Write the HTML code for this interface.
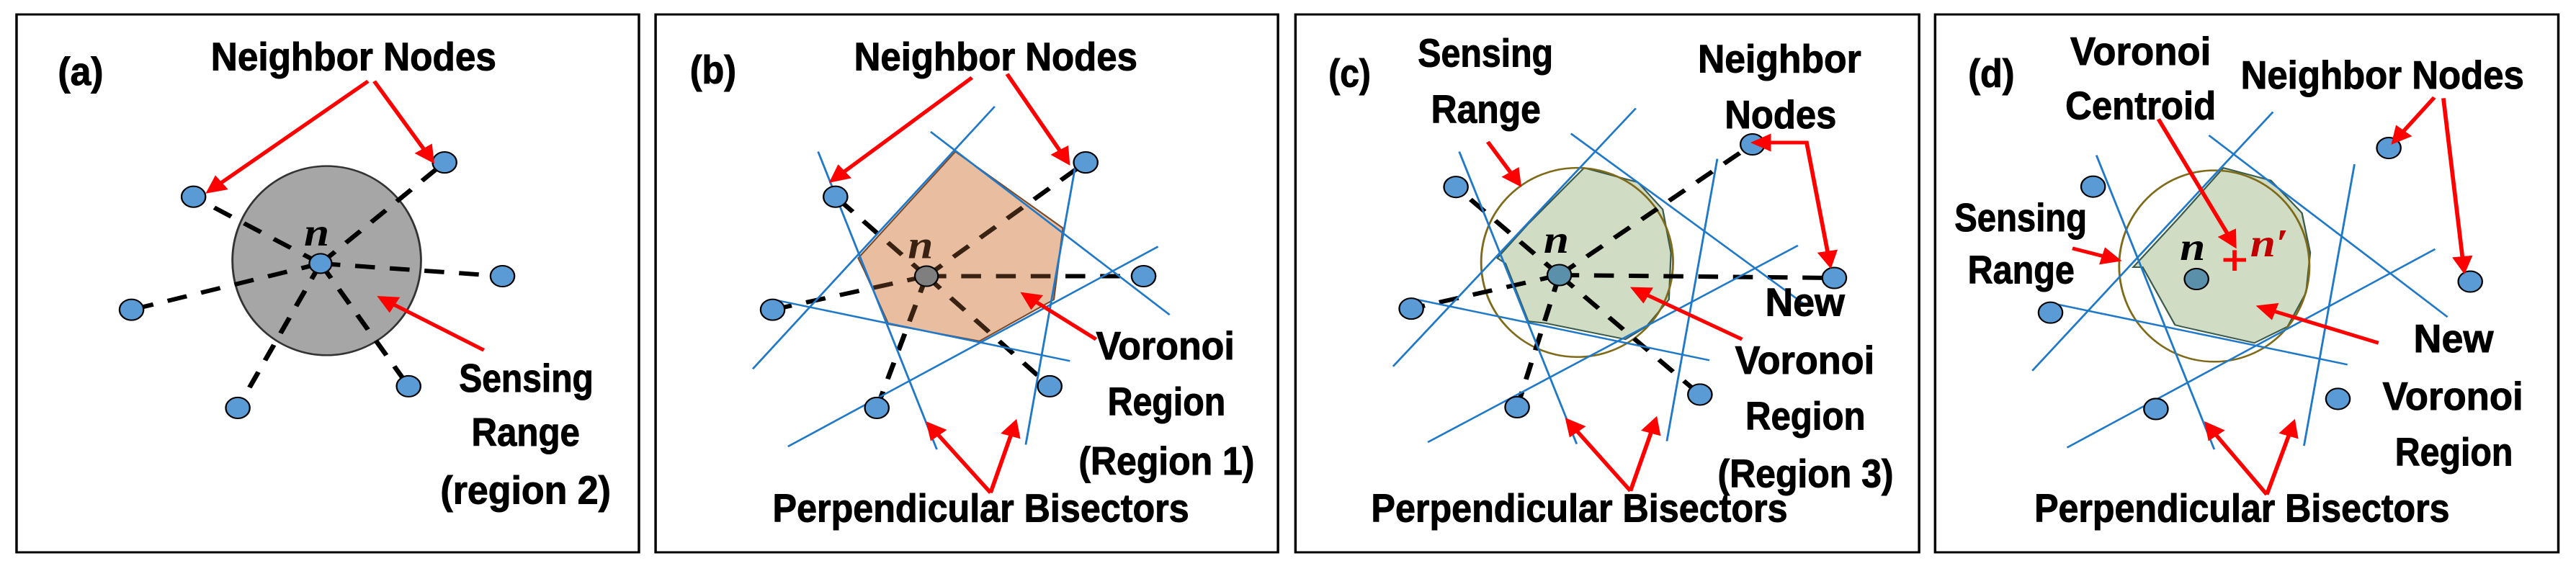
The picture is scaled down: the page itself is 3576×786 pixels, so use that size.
<!DOCTYPE html>
<html><head><meta charset="utf-8"><style>
html,body{margin:0;padding:0;background:#fff;}
svg{display:block;}
.t{font-family:"Liberation Sans",sans-serif;font-weight:bold;font-size:110px;fill:#000;stroke:#000;stroke-width:2;}
.n{font-family:"Liberation Serif",serif;font-style:italic;font-weight:bold;font-size:110px;}
.box{fill:none;stroke:#000;stroke-width:6;}
.nd{fill:#5b9bd5;stroke:#000;stroke-width:4;}
.dl{stroke:#000;stroke-width:12;stroke-dasharray:48,36;fill:none;}
.bl{stroke:#1f78c8;stroke-width:5;fill:none;}
.ra{stroke:#ff0000;stroke-width:10;fill:none;marker-end:url(#ah);}
</style></head><body>
<svg width="3576" height="786" viewBox="0 0 3576 786" xmlns="http://www.w3.org/2000/svg">
<defs>
<marker id="ah" viewBox="0 0 10 10" refX="8" refY="5" markerWidth="5" markerHeight="5" orient="auto" markerUnits="strokeWidth">
<path d="M0,0 L10,5 L0,10 z" fill="#ff0000"/></marker>
<marker id="ahs" viewBox="0 0 10 10" refX="2" refY="5" markerWidth="5" markerHeight="5" orient="auto-start-reverse" markerUnits="strokeWidth">
<path d="M0,0 L10,5 L0,10 z" fill="#ff0000"/></marker>
<clipPath id="pent"><polygon points="760,420 1020,632 998,830 818,945 598,898 540,750 525,715"/></clipPath>
</defs>

<!-- Panel a -->
<g transform="translate(0,0) scale(0.5741,0.5013)">
<rect class="box" x="40" y="40" width="1505" height="1490"/>
<text class="t" x="140" y="235" textLength="110" lengthAdjust="spacingAndGlyphs">(a)</text>
<text class="t" x="510" y="195" textLength="690" lengthAdjust="spacingAndGlyphs">Neighbor Nodes</text>
<ellipse cx="790" cy="722" rx="228" ry="262" fill="#a6a6a6" stroke="#333" stroke-width="5"/>
<g class="dl">
<line x1="775" y1="730" x2="1075" y2="450"/><line x1="775" y1="730" x2="468" y2="545"/>
<line x1="775" y1="730" x2="1215" y2="765"/><line x1="775" y1="730" x2="318" y2="858"/>
<line x1="775" y1="730" x2="988" y2="1070"/><line x1="775" y1="730" x2="575" y2="1130"/>
</g>
<circle class="nd" cx="775" cy="730" r="27"/>
<circle class="nd" cx="1075" cy="450" r="29"/><circle class="nd" cx="468" cy="545" r="29"/>
<circle class="nd" cx="1215" cy="765" r="29"/><circle class="nd" cx="318" cy="858" r="29"/>
<circle class="nd" cx="988" cy="1070" r="29"/><circle class="nd" cx="575" cy="1130" r="29"/>
<text class="n" x="735" y="680">n</text>
<line class="ra" x1="890" y1="225" x2="505" y2="530"/>
<line class="ra" x1="905" y1="225" x2="1045" y2="445"/>
<line class="ra" x1="1170" y1="970" x2="920" y2="825"/>
<text class="t" x="1110" y="1085" textLength="325" lengthAdjust="spacingAndGlyphs">Sensing</text>
<text class="t" x="1140" y="1235" textLength="262" lengthAdjust="spacingAndGlyphs">Range</text>
<text class="t" x="1065" y="1395" textLength="412" lengthAdjust="spacingAndGlyphs">(region 2)</text>
</g>

<!-- Panel b -->
<g transform="translate(890,0) scale(0.5741,0.5013)">
<rect class="box" x="35" y="40" width="1505" height="1490"/>
<text class="t" x="118" y="230" textLength="112" lengthAdjust="spacingAndGlyphs">(b)</text>
<text class="t" x="515" y="195" textLength="685" lengthAdjust="spacingAndGlyphs">Neighbor Nodes</text>
<g class="dl">
<line x1="690" y1="765" x2="1075" y2="450"/><line x1="690" y1="765" x2="470" y2="545"/>
<line x1="690" y1="765" x2="1215" y2="765"/><line x1="690" y1="765" x2="318" y2="858"/>
<line x1="690" y1="765" x2="988" y2="1070"/><line x1="690" y1="765" x2="570" y2="1130"/>
</g>
<polygon points="760,420 1020,632 998,830 818,945 598,898 540,750 525,715" fill="#e9bea0" stroke="#7a4a2a" stroke-width="4"/>
<g class="dl" clip-path="url(#pent)" style="stroke:#3a2212">
<line x1="690" y1="765" x2="1075" y2="450"/><line x1="690" y1="765" x2="470" y2="545"/>
<line x1="690" y1="765" x2="1215" y2="765"/><line x1="690" y1="765" x2="318" y2="858"/>
<line x1="690" y1="765" x2="988" y2="1070"/><line x1="690" y1="765" x2="570" y2="1130"/>
</g>
<g class="bl">
<line x1="428" y1="420" x2="715" y2="1245"/><line x1="855" y1="295" x2="270" y2="1022"/>
<line x1="700" y1="365" x2="1278" y2="872"/><line x1="1050" y1="460" x2="930" y2="1232"/>
<line x1="1250" y1="683" x2="355" y2="1237"/><line x1="320" y1="830" x2="1037" y2="1000"/>
</g>
<circle cx="690" cy="765" r="28" fill="#7f7f7f" stroke="#000" stroke-width="4"/>
<circle class="nd" cx="1075" cy="450" r="29"/><circle class="nd" cx="470" cy="545" r="29"/>
<circle class="nd" cx="1215" cy="765" r="29"/><circle class="nd" cx="318" cy="858" r="29"/>
<circle class="nd" cx="988" cy="1070" r="29"/><circle class="nd" cx="570" cy="1130" r="29"/>
<text class="n" x="645" y="715" style="fill:#3a2212">n</text>
<line class="ra" x1="800" y1="215" x2="462" y2="500"/>
<line class="ra" x1="885" y1="205" x2="1032" y2="450"/>
<line class="ra" x1="1100" y1="940" x2="925" y2="815"/>
<line class="ra" x1="845" y1="1365" x2="695" y2="1175"/>
<line class="ra" x1="845" y1="1365" x2="905" y2="1170"/>
<text class="t" x="1100" y="995" textLength="335" lengthAdjust="spacingAndGlyphs">Voronoi</text>
<text class="t" x="1128" y="1150" textLength="285" lengthAdjust="spacingAndGlyphs">Region</text>
<text class="t" x="1058" y="1315" textLength="425" lengthAdjust="spacingAndGlyphs">(Region 1)</text>
<text class="t" x="318" y="1445" textLength="1007" lengthAdjust="spacingAndGlyphs">Perpendicular Bisectors</text>
</g>

<!-- Panel c -->
<g transform="translate(1780,0) scale(0.5741,0.5013)">
<rect class="box" x="32" y="40" width="1508" height="1490"/>
<text class="t" x="112" y="240" textLength="102" lengthAdjust="spacingAndGlyphs">(c)</text>
<text class="t" x="328" y="185" textLength="327" lengthAdjust="spacingAndGlyphs">Sensing</text>
<text class="t" x="360" y="340" textLength="265" lengthAdjust="spacingAndGlyphs">Range</text>
<text class="t" x="1005" y="200" textLength="395" lengthAdjust="spacingAndGlyphs">Neighbor</text>
<text class="t" x="1070" y="355" textLength="270" lengthAdjust="spacingAndGlyphs">Nodes</text>
<polygon points="730,465 860,505 920,580 940,700 935,830 880,905 830,940 635,895 595,890 540,730 520,715 595,620" fill="#d0dcc4" stroke="#3a5a4a" stroke-width="4"/>
<ellipse cx="713" cy="727" rx="232" ry="262" fill="none" stroke="#7f6a1a" stroke-width="5"/>
<g class="dl">
<line x1="670" y1="762" x2="1137" y2="400"/><line x1="670" y1="762" x2="420" y2="518"/>
<line x1="670" y1="762" x2="1335" y2="770"/><line x1="670" y1="762" x2="312" y2="855"/>
<line x1="670" y1="762" x2="1010" y2="1093"/><line x1="670" y1="762" x2="568" y2="1128"/>
</g>
<g class="bl">
<line x1="428" y1="420" x2="712" y2="1230"/><line x1="855" y1="300" x2="268" y2="1015"/>
<line x1="698" y1="370" x2="1265" y2="845"/><line x1="1052" y1="440" x2="930" y2="1222"/>
<line x1="1247" y1="680" x2="352" y2="1225"/><line x1="318" y1="828" x2="1033" y2="998"/>
</g>
<circle cx="670" cy="762" r="29" fill="#5b90aa" stroke="#000" stroke-width="4"/>
<circle class="nd" cx="1137" cy="400" r="29"/><circle class="nd" cx="420" cy="518" r="29"/>
<circle class="nd" cx="1335" cy="770" r="29"/><circle class="nd" cx="312" cy="855" r="29"/>
<circle class="nd" cx="1010" cy="1093" r="29"/><circle class="nd" cx="568" cy="1128" r="29"/>
<text class="n" x="632" y="700">n</text>
<line class="ra" x1="497" y1="393" x2="573" y2="510"/>
<line class="ra" x1="1112" y1="940" x2="850" y2="800"/>
<line class="ra" x1="842" y1="1360" x2="690" y2="1165"/>
<line class="ra" x1="842" y1="1360" x2="903" y2="1162"/>
<polyline points="1172,395 1268,395 1325,735" fill="none" stroke="#ff0000" stroke-width="10" marker-start="url(#ahs)" marker-end="url(#ah)"/>
<text class="t" x="1168" y="875" textLength="192" lengthAdjust="spacingAndGlyphs">New</text>
<text class="t" x="1095" y="1035" textLength="337" lengthAdjust="spacingAndGlyphs">Voronoi</text>
<text class="t" x="1120" y="1190" textLength="290" lengthAdjust="spacingAndGlyphs">Region</text>
<text class="t" x="1053" y="1350" textLength="425" lengthAdjust="spacingAndGlyphs">(Region 3)</text>
<text class="t" x="215" y="1445" textLength="1007" lengthAdjust="spacingAndGlyphs">Perpendicular Bisectors</text>
</g>

<!-- Panel d -->
<g transform="translate(2676,0) scale(0.5741,0.5013)">
<rect class="box" x="18" y="40" width="1507" height="1490"/>
<text class="t" x="98" y="240" textLength="112" lengthAdjust="spacingAndGlyphs">(d)</text>
<text class="t" x="345" y="180" textLength="340" lengthAdjust="spacingAndGlyphs">Voronoi</text>
<text class="t" x="333" y="330" textLength="364" lengthAdjust="spacingAndGlyphs">Centroid</text>
<text class="t" x="757" y="245" textLength="685" lengthAdjust="spacingAndGlyphs">Neighbor Nodes</text>
<text class="t" x="65" y="640" textLength="320" lengthAdjust="spacingAndGlyphs">Sensing</text>
<text class="t" x="97" y="785" textLength="258" lengthAdjust="spacingAndGlyphs">Range</text>
<polygon points="715,465 830,500 905,590 925,700 915,810 870,905 790,950 615,905 598,900 520,740 497,740 610,600" fill="#d0dcc4" stroke="#3a5a4a" stroke-width="4"/>
<ellipse cx="693" cy="737" rx="230" ry="265" fill="none" stroke="#7f6a1a" stroke-width="5"/>
<g class="bl">
<line x1="408" y1="430" x2="693" y2="1245"/><line x1="835" y1="310" x2="253" y2="1027"/>
<line x1="680" y1="375" x2="1257" y2="878"/><line x1="1032" y1="455" x2="910" y2="1235"/>
<line x1="1227" y1="690" x2="337" y2="1240"/><line x1="300" y1="840" x2="1015" y2="1010"/>
</g>
<circle cx="650" cy="773" r="29" fill="#5b90aa" stroke="#000" stroke-width="4"/>
<circle class="nd" cx="1115" cy="410" r="29"/><circle class="nd" cx="400" cy="517" r="29"/>
<circle class="nd" cx="1312" cy="780" r="29"/><circle class="nd" cx="297" cy="866" r="29"/>
<circle class="nd" cx="992" cy="1105" r="29"/><circle class="nd" cx="552" cy="1133" r="29"/>
<text class="n" x="610" y="720">n</text>
<text class="n" x="780" y="710" style="fill:#c00000">n′</text>
<path d="M715,720 H770 M742,693 V750" stroke="#ff0000" stroke-width="10"/>
<line class="ra" x1="558" y1="330" x2="742" y2="680"/>
<line class="ra" x1="1225" y1="270" x2="1127" y2="393"/>
<line class="ra" x1="1247" y1="272" x2="1297" y2="750"/>
<line class="ra" x1="350" y1="688" x2="460" y2="720"/>
<line class="ra" x1="1090" y1="950" x2="803" y2="850"/>
<line class="ra" x1="820" y1="1370" x2="675" y2="1175"/>
<line class="ra" x1="820" y1="1370" x2="885" y2="1170"/>
<text class="t" x="1175" y="975" textLength="193" lengthAdjust="spacingAndGlyphs">New</text>
<text class="t" x="1100" y="1135" textLength="340" lengthAdjust="spacingAndGlyphs">Voronoi</text>
<text class="t" x="1130" y="1290" textLength="285" lengthAdjust="spacingAndGlyphs">Region</text>
<text class="t" x="258" y="1445" textLength="1004" lengthAdjust="spacingAndGlyphs">Perpendicular Bisectors</text>
</g>
</svg>
</body></html>
